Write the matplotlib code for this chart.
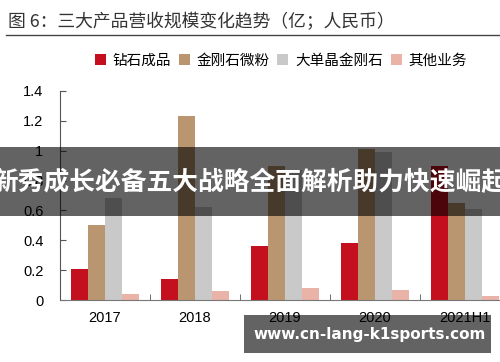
import numpy as np
import matplotlib
matplotlib.use("Agg")
import matplotlib.pyplot as plt
from matplotlib.patches import Rectangle

plt.rcParams['font.family'] = ['Liberation Sans', 'Noto Sans CJK SC', 'DejaVu Sans']

years = ['2017', '2018', '2019', '2020', '2021H1']
series_names = ['钻石成品', '金刚石微粉', '大单晶金刚石', '其他业务']
diamond = [0.21, 0.14, 0.36, 0.38, 0.90]
powder = [0.50, 1.23, 0.90, 1.01, 0.65]
single_crystal = [0.68, 0.62, 0.87, 0.99, 0.61]
other = [0.04, 0.06, 0.08, 0.07, 0.03]
colors = ['#C30F1E', '#B9966F', '#C9C9C9', '#E9B3A8']

fig = plt.figure(figsize=(5, 3.62), dpi=100)
ax = fig.add_axes([0.12, 0.171, 0.88, 0.578])

x = np.arange(len(years))
w = 0.19
for i, (vals, name, c) in enumerate(zip([diamond, powder, single_crystal, other], series_names, colors)):
    ax.bar(x + (i - 1.5) * w, vals, w, color=c, label=name, zorder=2)

ax.set_xlim(-0.5, 4.39)
ax.set_ylim(0, 1.4)
ax.set_yticks(np.arange(0, 1.41, 0.2))
ax.set_yticklabels(['0', '0.2', '0.4', '0.6', '0.8', '1', '1.2', '1.4'])
ax.set_xticks(x)
ax.set_xticklabels(years)
ax.set_xticks(np.arange(0.5, 4.5, 1), minor=True)
ax.tick_params(axis='x', which='major', length=0, labelsize=10.5, pad=8)
ax.tick_params(axis='x', which='minor', direction='in', length=4, color='#555555')
ax.tick_params(axis='y', direction='in', length=4, labelsize=10.5, pad=12, color='#555555')
for s in ['top', 'right']:
    ax.spines[s].set_visible(False)
ax.spines['left'].set_color('#555555')
ax.spines['bottom'].set_color('#777777')

fig.text(0.016, 0.938, '图 6：三大产品营收规模变化趋势（亿；人民币）', fontsize=12.8,
         color='#333333', family=['Noto Sans CJK SC', 'DejaVu Sans'], va='center')
fig.add_artist(plt.Line2D([0.012, 1.0], [0.903, 0.903], color='#444444', lw=1))

leg = fig.legend(loc='center', bbox_to_anchor=(0.562, 0.832), ncol=4, frameon=False,
                 prop={'family': 'Noto Sans CJK SC', 'size': 10.5},
                 handlelength=0.75, handleheight=0.75, handletextpad=0.5, columnspacing=0.5)

# watermark overlays
fig.add_artist(Rectangle((0, 1 - 216 / 362), 1, 69 / 362, transform=fig.transFigure,
                         color='black', alpha=0.61, zorder=10, lw=0))
fig.text(0.5, 1 - 183 / 362, '新秀成长必备五大战略全面解析助力快速崛起', fontsize=18.5,
         color='white', weight='bold', ha='center', va='center', zorder=11,
         family=['Noto Sans CJK SC', 'DejaVu Sans'])
fig.add_artist(Rectangle((244 / 500, 1 - 353 / 362), 247 / 500, 38 / 362, transform=fig.transFigure,
                         color='black', alpha=0.61, zorder=10, lw=0))
fig.text(253 / 500, 1 - 335 / 362, 'www.cn-lang-k1sports.com', fontsize=11,
         color='white', weight='bold', ha='left', va='center', zorder=11, family='DejaVu Sans')

fig.savefig('out.png', dpi=100)
